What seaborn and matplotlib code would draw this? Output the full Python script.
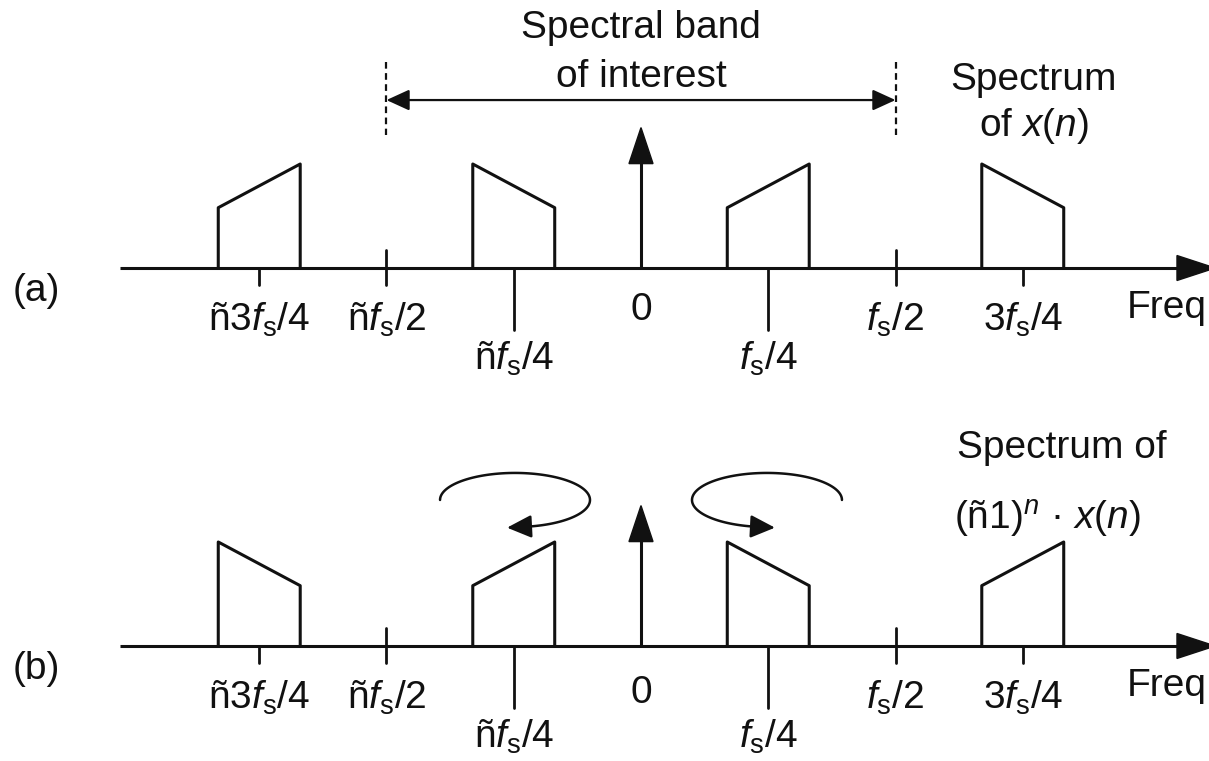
import numpy as np
import pandas as pd
import matplotlib
matplotlib.use("Agg")
import matplotlib.pyplot as plt
import seaborn as sns

# Spectral bands (frequency in units of fs) and their edge heights
band_centers = [-0.75, -0.25, 0.25, 0.75]
band_half_width = 0.0805
low_edge = 0.58
high_edge = 1.0
# +1 = rising edge (low -> high), -1 = falling
slopes_a = [1, -1, 1, -1]
slopes_b = [-1, 1, -1, 1]
dc_height = 1.35

tick_pos = [-0.75, -0.5, -0.25, 0.0, 0.25, 0.5, 0.75]
tick_labels = [r"ñ3$f_\mathrm{s}$/4", r"ñ$f_\mathrm{s}$/2", r"ñ$f_\mathrm{s}$/4", "0",
               r"$f_\mathrm{s}$/4", r"$f_\mathrm{s}$/2", r"3$f_\mathrm{s}$/4"]
tick_kind = ["short", "cross", "long", "none", "long", "cross", "short"]


def band_frame(slopes):
    rows = []
    for i, (c, s) in enumerate(zip(band_centers, slopes)):
        hl, hr = (low_edge, high_edge) if s > 0 else (high_edge, low_edge)
        for k, (f, a) in enumerate([(c - band_half_width, 0), (c - band_half_width, hl),
                                    (c + band_half_width, hr), (c + band_half_width, 0)]):
            rows.append({"band": i, "step": k, "f": f, "amp": a})
    return pd.DataFrame(rows)


sns.set_theme(style="white")
plt.rcParams["font.family"] = ["Liberation Sans", "DejaVu Sans"]
plt.rcParams["text.color"] = "#111111"
plt.rcParams["mathtext.fontset"] = "custom"
plt.rcParams["mathtext.rm"] = "Liberation Sans"
plt.rcParams["mathtext.it"] = "Liberation Sans:italic"
plt.rcParams["mathtext.sf"] = "Liberation Sans"

fig = plt.figure(figsize=(12.09, 7.61), dpi=100)
ax_a = fig.add_axes([0, 1 - 390 / 761, 1, 390 / 761])
ax_b = fig.add_axes([0, 0, 1, 371 / 761])
ax_a.set_ylim(-1.173, 2.577)
ax_b.set_ylim(-1.106, 2.4615)

FS = 28
LW = 2.2
INK = "#111111"


def draw_panel(ax, slopes, name, zero_drop):
    ax.set_xlim(-1.2593, 1.1159)
    ax.axis("off")
    # frequency axis with arrow
    ax.plot([-1.0236, 1.056], [0, 0], color=INK, lw=LW, solid_capstyle="butt")
    ax.fill([1.053, 1.053, 1.128], [-0.12, 0.12, 0], color=INK, clip_on=False)
    # band trapezoids
    df = band_frame(slopes)
    sns.lineplot(data=df, x="f", y="amp", units="band", estimator=None, sort=False,
                 color=INK, lw=LW, ax=ax, legend=False)
    # DC impulse
    ax.plot([0, 0], [0, dc_height - 0.3], color=INK, lw=LW)
    ax.fill([-0.0236, 0.0236, 0], [dc_height - 0.346, dc_height - 0.346, dc_height],
            color=INK)
    # ticks and labels
    for p, lab, kind in zip(tick_pos, tick_labels, tick_kind):
        if kind == "short":
            ax.plot([p, p], [0, -0.163], color=INK, lw=2)
        elif kind == "cross":
            ax.plot([p, p], [0.173, -0.163], color=INK, lw=2)
        elif kind == "long":
            ax.plot([p, p], [0, -0.596], color=INK, lw=2)
        if kind == "long":
            y = -0.98
        elif kind == "none":
            y = -zero_drop
        else:
            y = -0.6
        ax.text(p, y, lab, ha="center", va="baseline", fontsize=FS)
    ax.text(0.955, -0.48, "Freq", ha="left", va="baseline", fontsize=FS, clip_on=False)
    ax.text(-1.187, -0.22, name, ha="center", va="center", fontsize=FS)


draw_panel(ax_a, slopes_a, "(a)", 0.5)
draw_panel(ax_b, slopes_b, "(b)", 0.55)

# spectral band of interest
ax_a.text(0, 2.21, "Spectral band", ha="center", va="baseline", fontsize=FS)
ax_a.text(0, 1.74, "of interest", ha="center", va="baseline", fontsize=FS)
ax_a.annotate("", xy=(-0.5, 1.615), xytext=(0.5, 1.615),
              arrowprops=dict(arrowstyle="<|-|>,head_length=0.7,head_width=0.32",
                              mutation_scale=20, lw=1.6, color=INK,
                              shrinkA=0, shrinkB=0))
for x in (-0.5, 0.5):
    ax_a.plot([x, x], [1.98, 1.28], color=INK, lw=1.6, ls=(0, (3, 2)))
ax_a.text(0.772, 1.71, "Spectrum", ha="center", va="baseline", fontsize=FS)
ax_a.text(0.772, 1.27, r"of $x$($n$)", ha="center", va="baseline", fontsize=FS)

# spectrum of (-1)^n x(n)
ax_b.text(0.827, 1.81, "Spectrum of", ha="center", va="baseline", fontsize=FS)
ax_b.text(0.798, 1.115, r"(ñ1)$^n$ · $x$($n$)", ha="center", va="baseline", fontsize=FS)

# rotation arrows around -fs/4 and +fs/4
loop_cx, loop_cy, loop_a, loop_b = 0.2475, 1.404, 0.1473, 0.26
theta = np.linspace(np.pi, -np.pi / 2 + 0.17, 120)
for side in (-1, 1):
    lx = side * loop_cx - side * loop_a * np.cos(theta)
    ly = loop_cy + loop_b * np.sin(theta)
    ax_b.plot(lx, ly, color=INK, lw=1.8)
    ax_b.annotate("", xy=(side * (loop_cx + 0.0157), ly[-1] - 0.01), xytext=(lx[-1], ly[-1]),
                  arrowprops=dict(arrowstyle="-|>,head_length=0.6,head_width=0.28",
                                  mutation_scale=25, lw=1.8, color=INK,
                                  shrinkA=0, shrinkB=0))

fig.savefig("out.png", dpi=100)
